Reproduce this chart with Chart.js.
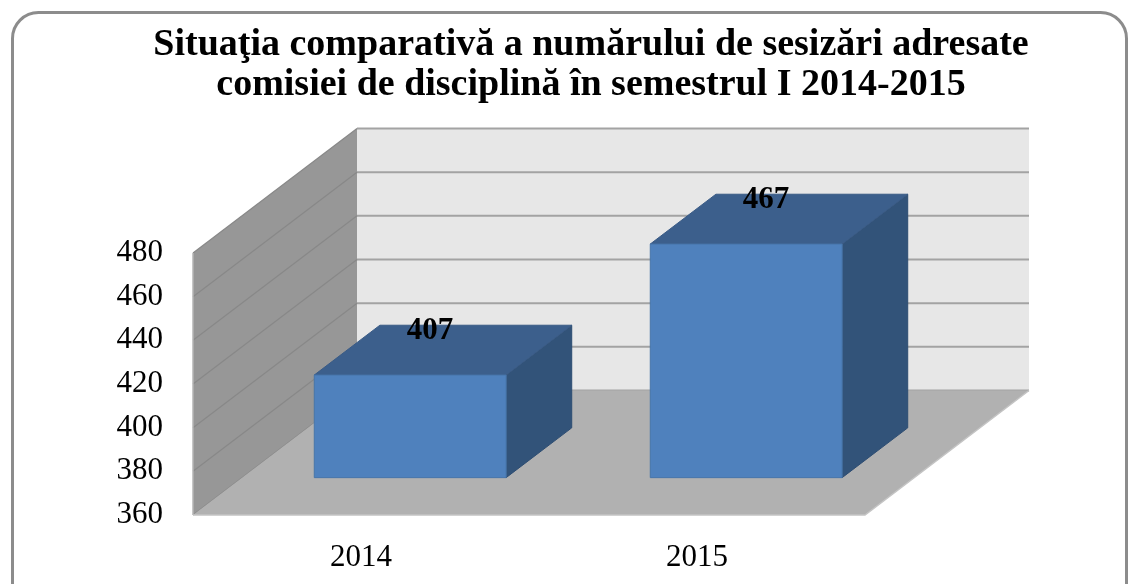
<!DOCTYPE html>
<html>
<head>
<meta charset="utf-8">
<script src="https://cdn.jsdelivr.net/npm/chart.js@4.4.1/dist/chart.umd.min.js"></script>
<style>
html,body{margin:0;padding:0;background:#fff;}
#wrap{width:1136px;height:584px;}
</style>
</head>
<body>
<div id="wrap"><canvas id="c" width="1136" height="584"></canvas></div>
<script>
const titleLines = ['Situaţia comparativă a numărului de sesizări adresate', 'comisiei de disciplină în semestrul I 2014-2015'];
const categories = ['2014', '2015'];
const values = [407, 467];
const yMin = 360;
const yMax = 480;
const yStep = 20;

const DEPTH = {dx: 164, dy: -124.5};
const BAR_DEPTH = [0.3, 0.7];

function poly(ctx, pts, fill, stroke, lw) {
  ctx.beginPath();
  ctx.moveTo(pts[0][0], pts[0][1]);
  for (let i = 1; i < pts.length; i++) ctx.lineTo(pts[i][0], pts[i][1]);
  ctx.closePath();
  if (fill) { ctx.fillStyle = fill; ctx.fill(); }
  if (stroke) { ctx.strokeStyle = stroke; ctx.lineWidth = lw || 1; ctx.stroke(); }
}

const threeD = {
  id: 'threeD',
  beforeDraw(chart) {
    const ctx = chart.ctx;
    ctx.save();
    ctx.fillStyle = '#fff';
    ctx.fillRect(0, 0, chart.width, chart.height);
    ctx.beginPath();
    ctx.roundRect(12.5, 12.5, 1114, 640, 26);
    ctx.strokeStyle = '#8c8c8c';
    ctx.lineWidth = 3;
    ctx.stroke();
    ctx.fillStyle = '#000';
    ctx.font = 'bold 38px "Liberation Serif", "Times New Roman", serif';
    ctx.textAlign = 'center';
    ctx.textBaseline = 'middle';
    ctx.fillText(titleLines[0], 591, 45);
    ctx.fillText(titleLines[1], 591, 85);
    ctx.restore();
  },
  beforeDatasetsDraw(chart) {
    const ctx = chart.ctx;
    const a = chart.chartArea;
    const y = chart.scales.y;
    const dx = DEPTH.dx, dy = DEPTH.dy;
    ctx.save();
    // back wall
    poly(ctx, [[a.left + dx, a.top + dy], [a.right + dx, a.top + dy], [a.right + dx, a.bottom + dy], [a.left + dx, a.bottom + dy]], '#e7e7e7');
    // left wall
    poly(ctx, [[a.left, a.bottom], [a.left, a.top], [a.left + dx, a.top + dy], [a.left + dx, a.bottom + dy]], '#979797');
    // gridlines
    y.ticks.forEach(t => {
      const py = y.getPixelForValue(t.value);
      ctx.beginPath();
      ctx.moveTo(a.left + dx, py + dy);
      ctx.lineTo(a.right + dx, py + dy);
      ctx.strokeStyle = '#a3a3a3';
      ctx.lineWidth = 2;
      ctx.stroke();
      ctx.beginPath();
      ctx.moveTo(a.left, py);
      ctx.lineTo(a.left + dx, py + dy);
      ctx.strokeStyle = '#888888';
      ctx.lineWidth = 1.2;
      ctx.stroke();
    });
    // left wall front edge
    ctx.beginPath();
    ctx.moveTo(a.left, a.top);
    ctx.lineTo(a.left, a.bottom);
    ctx.strokeStyle = '#b5b5b5';
    ctx.lineWidth = 1.5;
    ctx.stroke();
    // floor
    poly(ctx, [[a.left, a.bottom], [a.right, a.bottom], [a.right + dx, a.bottom + dy], [a.left + dx, a.bottom + dy]], '#b1b1b1');
    ctx.beginPath();
    ctx.moveTo(a.left, a.bottom);
    ctx.lineTo(a.right, a.bottom);
    ctx.lineTo(a.right + dx, a.bottom + dy);
    ctx.strokeStyle = '#c4c4c4';
    ctx.lineWidth = 1.5;
    ctx.stroke();
    ctx.restore();
  },
  afterDatasetsDraw(chart) {
    const ctx = chart.ctx;
    const y = chart.scales.y;
    const meta = chart.getDatasetMeta(0);
    const dx = DEPTH.dx, dy = DEPTH.dy;
    const f0 = BAR_DEPTH[0], f1 = BAR_DEPTH[1];
    ctx.save();
    meta.data.forEach((bar, i) => {
      const v = chart.data.datasets[0].data[i];
      const top = y.getPixelForValue(v);
      const base = y.getPixelForValue(yMin);
      const l = bar.x - bar.width / 2, r = bar.x + bar.width / 2;
      const ox0 = dx * f0, oy0 = dy * f0, ox1 = dx * f1, oy1 = dy * f1;
      // right side
      poly(ctx, [[r + ox0, top + oy0], [r + ox1, top + oy1], [r + ox1, base + oy1], [r + ox0, base + oy0]], '#325379', '#2e4d72', 1);
      // top
      poly(ctx, [[l + ox0, top + oy0], [r + ox0, top + oy0], [r + ox1, top + oy1], [l + ox1, top + oy1]], '#3c5f8c', '#3a5b86', 1);
      // front
      poly(ctx, [[l + ox0, top + oy0], [r + ox0, top + oy0], [r + ox0, base + oy0], [l + ox0, base + oy0]], '#4f81bd', '#4775aa', 1);
      // value label
      ctx.fillStyle = '#000';
      ctx.font = 'bold 31px "Liberation Serif", "Times New Roman", serif';
      ctx.textAlign = 'center';
      ctx.textBaseline = 'middle';
      ctx.fillText(String(v), bar.x + 69, top - 81);
    });
    ctx.restore();
  }
};

new Chart(document.getElementById('c'), {
  type: 'bar',
  data: {
    labels: categories,
    datasets: [{
      data: values,
      backgroundColor: 'rgba(0,0,0,0)',
      borderWidth: 0,
      barPercentage: 0.571,
      categoryPercentage: 1.0
    }]
  },
  options: {
    responsive: false,
    animation: false,
    events: [],
    layout: {padding: {top: 253, left: 0, right: 271, bottom: 0}},
    plugins: {legend: {display: false}, title: {display: false}, tooltip: {enabled: false}},
    scales: {
      x: {
        offset: true,
        grid: {display: false, drawTicks: false},
        border: {display: false},
        ticks: {
          color: '#000',
          padding: 24,
          font: {family: '"Liberation Serif", "Times New Roman", serif', size: 31}
        },
        afterFit(scale) { scale.height = 69; }
      },
      y: {
        min: yMin,
        max: yMax,
        grid: {display: false, drawTicks: false},
        border: {display: false},
        ticks: {
          stepSize: yStep,
          color: '#000',
          padding: 30,
          font: {family: '"Liberation Serif", "Times New Roman", serif', size: 31}
        },
        afterFit(scale) { scale.width = 193; }
      }
    }
  },
  plugins: [threeD]
});
</script>
</body>
</html>
